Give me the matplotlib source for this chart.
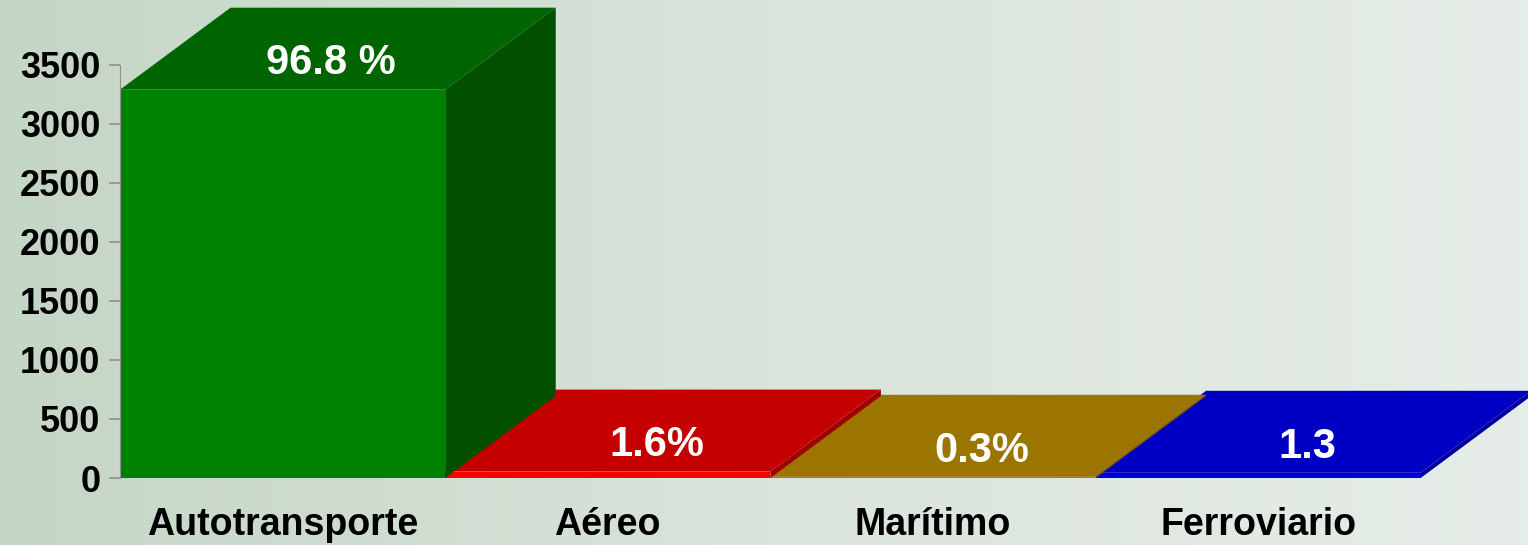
import numpy as np
import matplotlib.pyplot as plt
from matplotlib.patches import Polygon
from matplotlib.colors import LinearSegmentedColormap

# data
categories = ['Autotransporte', 'Aéreo', 'Marítimo', 'Ferroviario']
values = [3290, 54, 10, 44]
labels = ['96.8 %', '1.6%', '0.3%', '1.3']
front_colors = ['#008000', '#ff0000', '#a87c00', '#0000d8']
top_colors = ['#006400', '#c40000', '#9c7400', '#0000c4']
side_colors = ['#005000', '#a00000', '#806000', '#0000a0']
yticks = [0, 500, 1000, 1500, 2000, 2500, 3000, 3500]

plt.rcParams['font.family'] = ['Liberation Sans', 'DejaVu Sans']

fig = plt.figure(figsize=(15.28, 5.45), dpi=100)

# background gradient
bg = fig.add_axes([0, 0, 1, 1], zorder=-1)
grad = np.linspace(0, 1, 256).reshape(1, -1)
cmap = LinearSegmentedColormap.from_list('bg', ['#c4d6c6', '#dae4db', '#e6ede8'])
bg.imshow(grad, aspect='auto', cmap=cmap, extent=[0, 1, 0, 1])
bg.axis('off')

ax = fig.add_axes([120 / 1528, 67 / 545, 1 - 120 / 1528, 478 / 545])
ax.patch.set_alpha(0)
ax.set_xlim(-0.5, 3.83)
ax.set_ylim(0, 4050)

width = 1.0
dx, dy = 0.34, 695  # depth of the 3D effect in data units

# draw right to left so the left bars cover the ones behind them
for i in reversed(range(len(categories))):
    x0 = i - width / 2
    x1 = i + width / 2
    v = values[i]
    front = Polygon([(x0, 0), (x1, 0), (x1, v), (x0, v)], closed=True,
                    facecolor=front_colors[i], edgecolor='none', clip_on=False)
    top = Polygon([(x0, v), (x1, v), (x1 + dx, v + dy), (x0 + dx, v + dy)], closed=True,
                  facecolor=top_colors[i], edgecolor='none', clip_on=False)
    side = Polygon([(x1, 0), (x1 + dx, dy), (x1 + dx, v + dy), (x1, v)], closed=True,
                   facecolor=side_colors[i], edgecolor='none', clip_on=False)
    ax.add_patch(side)
    ax.add_patch(front)
    ax.add_patch(top)
    ax.text(i + 0.15, v + dy * 0.32, labels[i], color='white', fontsize=30,
            fontweight='bold', ha='center', va='center', zorder=5)

for s in ['top', 'right', 'bottom']:
    ax.spines[s].set_visible(False)
ax.spines['left'].set_color('#909090')
ax.spines['left'].set_bounds(0, 3500)

ax.set_yticks(yticks)
ax.set_yticklabels([str(t) for t in yticks], fontsize=26, fontweight='bold')
ax.tick_params(axis='y', colors='#909090', length=8, width=1.2, labelcolor='black', pad=6)

ax.set_xticks(range(len(categories)))
ax.set_xticklabels(categories, fontsize=27, fontweight='bold')
ax.tick_params(axis='x', length=0, pad=21)

fig.savefig('out.png', dpi=100)
